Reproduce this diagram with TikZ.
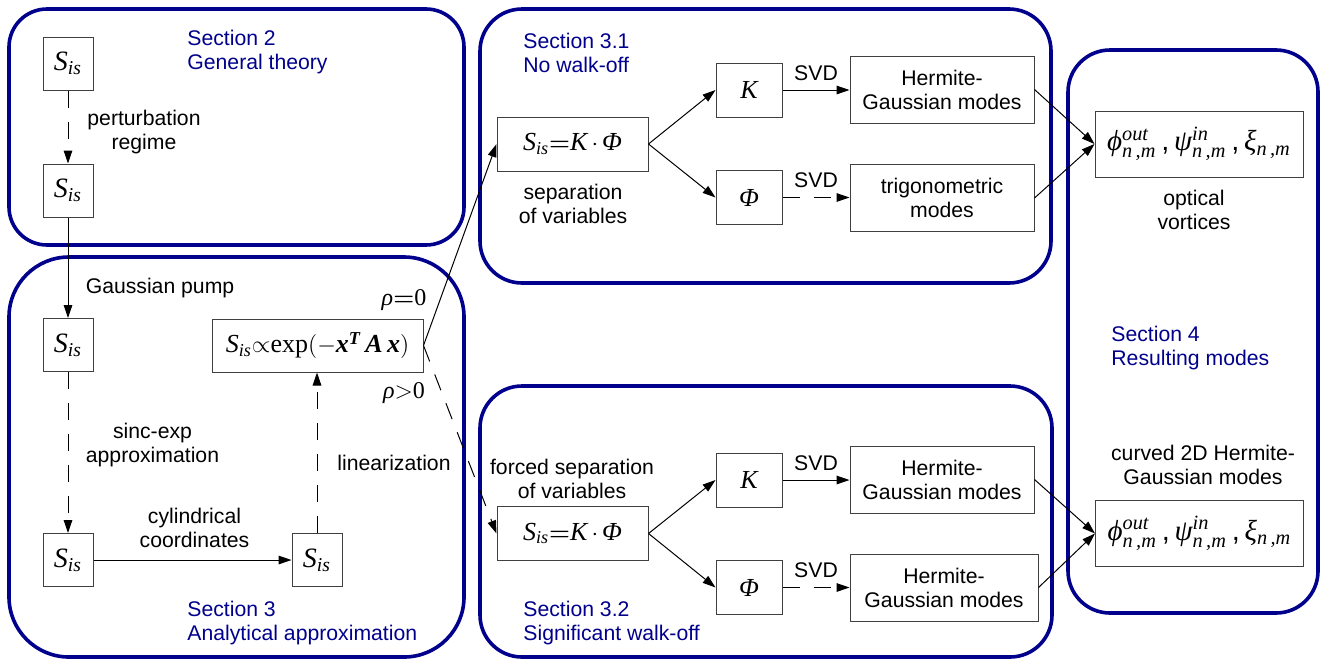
\documentclass[tikz,border=0pt]{standalone}
\usepackage{amsmath}
\usepackage{fontspec}
\setmainfont{Liberation Sans}
\newfontfamily\tm{Liberation Serif}
\usetikzlibrary{arrows.meta}
\definecolor{secblue}{RGB}{0,0,140}
% serif italic letters for the formulas
\newcommand{\ti}[1]{{\tm\itshape #1}}
\newcommand{\tbi}[1]{{\tm\bfseries\itshape #1}}
\newcommand{\Sis}{\ti{S}$_{\text{\ti{is}}}$}
\newcommand{\Sep}{\Sis$\boldsymbol{=}$\ti{K}$\,\cdot\,$\ti{Φ}}
\newcommand{\Modes}{\ti{ϕ}$^{\text{\ti{out}}}_{\text{\ti{n\,,m}}}$\,,\,\ti{ψ}$^{\text{\ti{in}}}_{\text{\ti{n\,,m}}}$\,,\,\ti{ξ}$_{\text{\ti{n\,,m}}}$}
\begin{document}
\begin{tikzpicture}[x=0.5pt,y=-0.5pt,
  every node/.style={font=\fontsize{10.6}{12}\selectfont, inner sep=0pt, align=center},
  sec/.style={draw=secblue, line width=1.8pt},
  seclbl/.style={text=secblue, anchor=west, align=left},
  bx/.style={draw=black!75, line width=0.5pt},
  mathbox/.style={bx, font=\fontsize{13}{15}\selectfont},
  sbox/.style={bx, font=\fontsize{14}{16}\selectfont, minimum width=25pt, minimum height=26.5pt},
  smallbox/.style={mathbox, minimum width=33pt, minimum height=27pt},
  sepbox/.style={mathbox, minimum width=75.5pt, minimum height=27pt},
  modebox/.style={bx, minimum width=92pt, minimum height=33.5pt},
  resbox/.style={bx, font=\fontsize{14.5}{16}\selectfont, minimum width=104pt, minimum height=33pt},
  mlbl/.style={font=\fontsize{12}{14}\selectfont},
  tip/.style={-{Triangle[length=6.5pt,width=4.3pt]}},
  arr/.style={tip, line width=0.5pt},
  darr/.style={tip, line width=0.5pt, dash pattern=on 8.5pt off 7pt}]
\useasboundingbox (0,0) rectangle (1320,659);

% section frames
\draw[sec, rounded corners=19pt] (9,9) rectangle (464,245);
\draw[sec, rounded corners=30pt] (9,257) rectangle (464,657);
\draw[sec, rounded corners=21pt] (480,9) rectangle (1051,283);
\draw[sec, rounded corners=21pt] (480,386) rectangle (1052,657);
\draw[sec, rounded corners=21pt] (1068,50) rectangle (1318,613);

% Section 2
\node[seclbl] (t2) at (187,52) {Section 2\\General theory};
\node[sbox] (s1) at (68,63.5) {\Sis};
\node[sbox] (s2) at (68,190.5) {\Sis};
\node (l1) at (144,132) {perturbation\\regime};

% Section 3
\node[seclbl] (t3) at (187,623) {Section 3\\Analytical approximation};
\node[sbox] (s3) at (68,345) {\Sis};
\node[sbox] (s4) at (68,560) {\Sis};
\node[sbox] (s5) at (317,560) {\Sis};
\node[mathbox, minimum width=105.5pt, minimum height=26.5pt] (ex) at (317.5,345.5)
  {\Sis$\propto${\tm exp}$(-$\tbi{x}$^{\text{\tbi{T}}}$\,\tbi{A}\,\tbi{x}$)$};
\node (l2) at (160,288) {Gaussian pump};
\node[mlbl] (r0) at (404,300) {\ti{ρ}$\boldsymbol{=}${\tm 0}};
\node[mlbl] (r1) at (404,393) {\ti{ρ}$>${\tm 0}};
\node (l3) at (152.5,445) {sinc-exp\\approximation};
\node (l4) at (394,463) {linearization};
\node (l5) at (194.5,528) {cylindrical\\coordinates};

% Section 3.1
\node[seclbl] (t31) at (523,52.5) {Section 3.1\\No walk-off};
\node[sepbox] (sep1) at (572.5,144) {\Sep};
\node (l6) at (573,204) {separation\\of variables};
\node[smallbox] (k1) at (749,90) {\ti{K}};
\node[smallbox] (p1) at (749,197.5) {\ti{Φ}};
\node[modebox] (hg1) at (942,89.5) {Hermite-\\Gaussian modes};
\node[modebox] (tr1) at (942,198) {trigonometric\\modes};
\node (v1) at (816,73) {SVD};
\node (v2) at (816,180) {SVD};

% Section 3.2
\node[seclbl] (t32) at (523,623) {Section 3.2\\Significant walk-off};
\node[sepbox] (sep2) at (572.5,533.5) {\Sep};
\node (l7) at (572,479) {forced separation\\of variables};
\node[smallbox] (k2) at (749,480) {\ti{K}};
\node[smallbox] (p2) at (749,587.5) {\ti{Φ}};
\node[modebox] (hg2) at (942,479.5) {Hermite-\\Gaussian modes};
\node[modebox, minimum width=94pt] (hg3) at (944,587.5) {Hermite-\\Gaussian modes};
\node (v3) at (816,463) {SVD};
\node (v4) at (816,570) {SVD};

% Section 4
\node[seclbl] (t4) at (1111,348) {Section 4\\Resulting modes};
\node[resbox] (res1) at (1199,144) {\Modes};
\node[resbox] (res2) at (1199.5,533.5) {\Modes};
\node (l8) at (1194,209.5) {optical\\vortices};
\node (l9) at (1203,465) {curved 2D Hermite-\\Gaussian modes};

% connectors
\draw[darr] (s1) -- (s2);
\draw[arr] (s2) -- (s3);
\draw[darr] (s3) -- (s4);
\draw[arr] (s4) -- (s5);
\draw[darr] (s5.north) -- (s5.north |- ex.south);
\draw[arr] (ex.east) -- (sep1.west);
\draw[darr] (ex.east) -- (sep2.west);

\draw[arr] (sep1.east) -- (k1.west);
\draw[arr] (sep1.east) -- (p1.west);
\draw[arr] (k1.east) -- (k1.east -| hg1.west);
\draw[darr] (p1.east) -- (p1.east -| tr1.west);
\draw[arr] (hg1.east) -- (res1.west);
\draw[arr] (tr1.east) -- (res1.west);

\draw[arr] (sep2.east) -- (k2.west);
\draw[arr] (sep2.east) -- (p2.west);
\draw[arr] (k2.east) -- (k2.east -| hg2.west);
\draw[darr] (p2.east) -- (p2.east -| hg3.west);
\draw[arr] (hg2.east) -- (res2.west);
\draw[arr] (hg3.east) -- (res2.west);
\end{tikzpicture}
\end{document}
